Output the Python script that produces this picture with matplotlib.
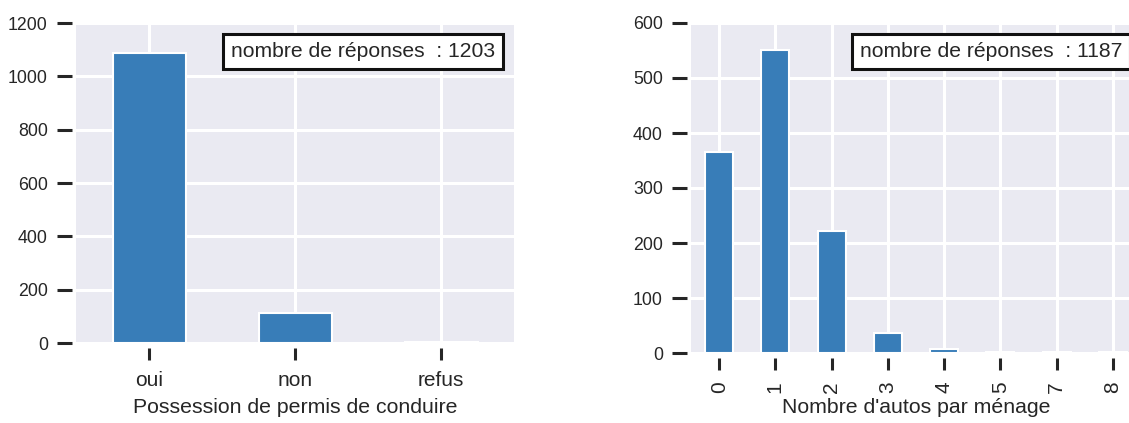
import matplotlib
matplotlib.use('Agg')
import matplotlib.pyplot as plt
import matplotlib.transforms as mtransforms
from matplotlib.offsetbox import AnchoredText

# data
permis_labels = ['oui', 'non', 'refus']
permis_counts = [1086, 114, 3]
autos_labels = ['0', '1', '2', '3', '4', '5', '7', '8']
autos_counts = [366, 551, 221, 36, 7, 2, 2, 2]

plt.rcParams['font.family'] = ['Liberation Sans', 'DejaVu Sans']

W, H = 1129, 423
fig = plt.figure(figsize=(W / 100, H / 100), dpi=100)
fig.patch.set_facecolor('white')

bar_color = '#387db8'
txt_color = '#262626'


def style_axis(ax, ymax):
    ax.set_facecolor('#eaeaf2')
    for s in ax.spines.values():
        s.set_visible(False)
    ax.spines['left'].set_position(('outward', 3))
    ax.spines['bottom'].set_position(('outward', 3.6))
    ax.grid(True, color='white', linewidth=2.2)
    ax.set_axisbelow(True)
    ax.set_ylim(0, ymax)
    ax.tick_params(axis='y', length=10.8, width=2.2, pad=6.5,
                   labelsize=12.8, color=txt_color, labelcolor=txt_color)
    ax.tick_params(axis='x', length=8.6, width=2.2, pad=8,
                   labelsize=15, color=txt_color, labelcolor=txt_color)


def add_box(ax, n):
    at = AnchoredText('nombre de réponses  : %d' % n, loc='upper right',
                      prop=dict(size=15.2, color=txt_color),
                      pad=0.38, borderpad=0.5, frameon=True)
    at.patch.set_edgecolor('#111111')
    at.patch.set_linewidth(2.2)
    ax.add_artist(at)


# left chart
ax1 = fig.add_axes([76 / W, (H - 343) / H, 438 / W, 320 / H])
style_axis(ax1, 1200)
ax1.bar(range(len(permis_labels)), permis_counts, width=0.5,
        color=bar_color, edgecolor='white', linewidth=1.5)
ax1.set_xlim(-0.5, len(permis_labels) - 0.5)
ax1.set_xticks(range(len(permis_labels)))
ax1.set_xticklabels(permis_labels)
ax1.set_yticks(range(0, 1201, 200))
ax1.set_xlabel('Possession de permis de conduire', fontsize=15.3, color=txt_color)
add_box(ax1, sum(permis_counts))

# right chart (extends past the figure edge, like the original)
ax2 = fig.add_axes([691 / W, (H - 353) / H, 450 / W, 330 / H])
style_axis(ax2, 600)
ax2.bar(range(len(autos_labels)), autos_counts, width=0.5,
        color=bar_color, edgecolor='white', linewidth=1.5)
ax2.set_xlim(-0.5, len(autos_labels) - 0.5)
ax2.set_xticks(range(len(autos_labels)))
ax2.set_xticklabels(autos_labels, rotation=90)
ax2.set_yticks(range(0, 601, 100))
ax2.set_xlabel("Nombre d'autos par ménage", fontsize=15.3, color=txt_color)
add_box(ax2, sum(autos_counts))

# both x labels sit on the same line
ylab = 1 - 398 / H
for ax in (ax1, ax2):
    tr = mtransforms.blended_transform_factory(ax.transAxes, fig.transFigure)
    ax.xaxis.set_label_coords(0.5, ylab, transform=tr)

fig.savefig('out.png', dpi=100)
